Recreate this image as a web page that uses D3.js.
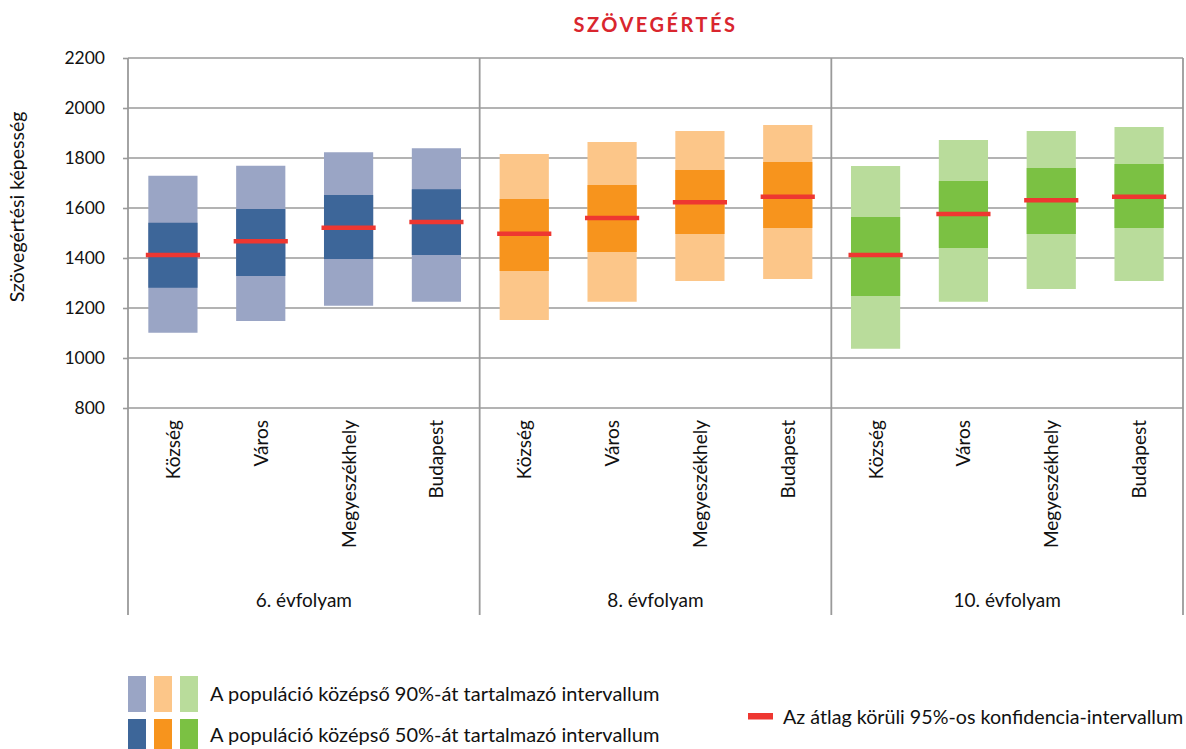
<!DOCTYPE html>
<html><head><meta charset="utf-8">
<script src="https://cdn.jsdelivr.net/npm/d3@7"></script>
<style>
body{margin:0;background:#fff;}
text{font-family:Lato,"Open Sans",sans-serif;fill:#111;}
</style></head>
<body><svg id="c" width="1186" height="749"></svg>
<script>
const categories = ["Község","Város","Megyeszékhely","Budapest"];
const groups = ["6. évfolyam","8. évfolyam","10. évfolyam"];
const yTicks = [800,1000,1200,1400,1600,1800,2000,2200];
// per group, per category
const p5  = [[1101,1148,1209,1225],[1152,1225,1308,1316],[1037,1225,1276,1308]];
const p25 = [[1281,1328,1396,1412],[1348,1424,1496,1520],[1248,1440,1496,1520]];
const mean= [[1412,1467,1521,1544],[1497,1560,1623,1645],[1412,1576,1631,1645]];
const p75 = [[1541,1596,1652,1675],[1636,1692,1752,1784],[1564,1708,1760,1776]];
const p95 = [[1729,1769,1823,1839],[1816,1864,1908,1932],[1768,1872,1908,1924]];
const lightColors = ["#9AA5C5","#FCC689","#B9DC9B"];
const darkColors  = ["#3D6699","#F7941D","#7BC143"];
const meanColor = "#EE3731";
const legendLabels = ["A populáció középső 90%-át tartalmazó intervallum","A populáció középső 50%-át tartalmazó intervallum","Az átlag körüli 95%-os konfidencia-intervallum"];
const title = "SZÖVEGÉRTÉS";
const yTitle = "Szövegértési képesség";

const svg = d3.select("#c");
const L=128, R=1183, T=58, B=408, BOT=615;
const grid="#9a9a9a";
const y = d3.scaleLinear().domain([800,2200]).range([B,T]);
const keys=[]; groups.forEach((g,gi)=>categories.forEach((c,ci)=>keys.push(gi+"-"+ci)));
const x = d3.scaleBand().domain(keys).range([L+1,R]).paddingInner(0.44).paddingOuter(0.22);
const gx = d3.scaleBand().domain(groups).range([L,R]);

// gridlines
svg.append("g").selectAll("line").data(yTicks).join("line")
  .attr("x1",L).attr("x2",R).attr("y1",d=>y(d)).attr("y2",d=>y(d))
  .attr("stroke",grid).attr("stroke-width",1.6);

// y axis
const ya = svg.append("g").attr("transform",`translate(${L},0)`)
  .call(d3.axisLeft(y).tickValues(yTicks).tickSize(5).tickPadding(18).tickFormat(d3.format("d")));
ya.select(".domain").remove();
ya.selectAll(".tick line").attr("stroke",grid).attr("stroke-width",1.6);
ya.selectAll(".tick text").attr("font-size",17.5).attr("font-family","Lato").attr("fill","#111");

// frame verticals
const vx=[L, gx("8. évfolyam"), gx("10. évfolyam"), R];
svg.append("g").selectAll("line").data(vx).join("line")
  .attr("x1",d=>d).attr("x2",d=>d).attr("y1",T).attr("y2",BOT)
  .attr("stroke",grid).attr("stroke-width",1.8);

// bars
const bars=[];
groups.forEach((g,gi)=>categories.forEach((c,ci)=>bars.push({gi,ci,k:gi+"-"+ci,
  p5:p5[gi][ci],p25:p25[gi][ci],m:mean[gi][ci],p75:p75[gi][ci],p95:p95[gi][ci]})));
const bg=svg.append("g");
bg.selectAll("rect.o").data(bars).join("rect").attr("class","o")
  .attr("x",d=>x(d.k)).attr("width",x.bandwidth())
  .attr("y",d=>y(d.p95)).attr("height",d=>y(d.p5)-y(d.p95))
  .attr("fill",d=>lightColors[d.gi]);
bg.selectAll("rect.i").data(bars).join("rect").attr("class","i")
  .attr("x",d=>x(d.k)).attr("width",x.bandwidth())
  .attr("y",d=>y(d.p75)).attr("height",d=>y(d.p25)-y(d.p75))
  .attr("fill",d=>darkColors[d.gi]);
bg.selectAll("line.m").data(bars).join("line").attr("class","m")
  .attr("x1",d=>x(d.k)-2.5).attr("x2",d=>x(d.k)+x.bandwidth()+2.5)
  .attr("y1",d=>y(d.m)).attr("y2",d=>y(d.m))
  .attr("stroke",meanColor).attr("stroke-width",4.5);

// category labels
svg.append("g").selectAll("text").data(bars).join("text")
  .attr("transform",d=>`translate(${x(d.k)+x.bandwidth()/2+7},${B+12}) rotate(-90)`)
  .attr("text-anchor","end").attr("font-size",19)
  .text(d=>categories[d.ci]);

// group labels
svg.append("g").selectAll("text").data(groups).join("text")
  .attr("x",d=>gx(d)+gx.bandwidth()/2).attr("y",607)
  .attr("text-anchor","middle").attr("font-size",19).text(d=>d);

// title
svg.append("text").attr("x",(L+R)/2).attr("y",32).attr("text-anchor","middle")
  .attr("font-size",20).attr("font-weight","bold").style("fill","#D9262E")
  .attr("letter-spacing",2.5).text(title);

// y title
svg.append("text").attr("transform","translate(24,207) rotate(-90)")
  .attr("text-anchor","middle").attr("font-size",19.5).text(yTitle);

// legend
const lg=svg.append("g");
[lightColors,darkColors].forEach((cols,ri)=>{
  const yy = ri===0?676:719;
  lg.selectAll("rect.r"+ri).data(cols).join("rect").attr("class","r"+ri)
    .attr("x",(d,i)=>128+i*26).attr("y",yy).attr("width",18).attr("height",ri===0?36:30)
    .attr("fill",d=>d);
  lg.append("text").attr("x",210).attr("y",ri===0?701:742).attr("font-size",20).text(legendLabels[ri]);
});
lg.append("rect").attr("x",748).attr("y",713).attr("width",25).attr("height",6.5).attr("fill",meanColor);
lg.append("text").attr("x",783).attr("y",724).attr("font-size",19.7).text(legendLabels[2]);
</script></body></html>
